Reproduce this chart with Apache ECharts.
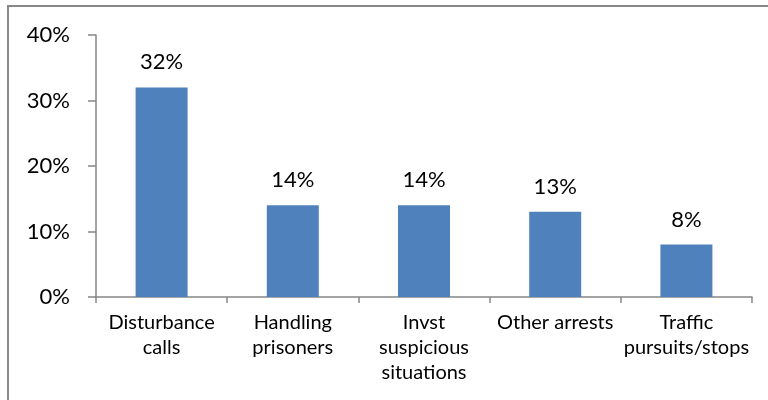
<!DOCTYPE html>
<html>
<head>
<meta charset="utf-8">
<script src="https://cdn.jsdelivr.net/npm/echarts@6/dist/echarts.min.js"></script>
<style>
html,body{margin:0;padding:0;background:#fff;}
#frame{position:absolute;left:7px;top:5px;width:761px;height:395px;border-top:2px solid #888;border-left:2px solid #888;box-sizing:border-box;}
#chart{position:absolute;left:0;top:0;width:768px;height:400px;}
</style>
</head>
<body>
<div id="frame"></div>
<div id="chart"></div>
<script>
const categories = ["Disturbance\ncalls", "Handling\nprisoners", "Invst\nsuspicious\nsituations", "Other arrests", "Traffic\npursuits/stops"];
const values = [32, 14, 14, 13, 8];
const yTicks = [0, 10, 20, 30, 40];

const chart = echarts.init(document.getElementById('chart'), null, {renderer: 'canvas'});
const font = 'Lato, "Open Sans", sans-serif';
chart.setOption({
  animation: false,
  grid: {left: 96, right: 16, top: 35, bottom: 103, containLabel: false},
  xAxis: {
    type: 'category',
    data: categories,
    axisLine: {lineStyle: {color: '#868686', width: 1.5}},
    axisTick: {show: true, alignWithLabel: false, length: 6, lineStyle: {color: '#868686', width: 1.5}},
    axisLabel: {color: '#000', fontFamily: font, fontSize: 20, lineHeight: 25, margin: 13, interval: 0}
  },
  yAxis: {
    type: 'value',
    min: yTicks[0], max: yTicks[yTicks.length - 1], interval: 10,
    axisLine: {show: true, lineStyle: {color: '#868686', width: 1.5}},
    axisTick: {show: true, length: 8, lineStyle: {color: '#868686', width: 1.5}},
    splitLine: {show: false},
    axisLabel: {color: '#000', fontFamily: font, fontSize: 22, margin: 26, formatter: v => v + '%'}
  },
  series: [{
    type: 'bar',
    data: values,
    barWidth: 52,
    itemStyle: {color: '#4F81BD'},
    label: {show: true, position: 'top', distance: 14, color: '#000', fontFamily: font, fontSize: 22, formatter: p => p.value + '%'}
  }]
});
</script>
</body>
</html>
